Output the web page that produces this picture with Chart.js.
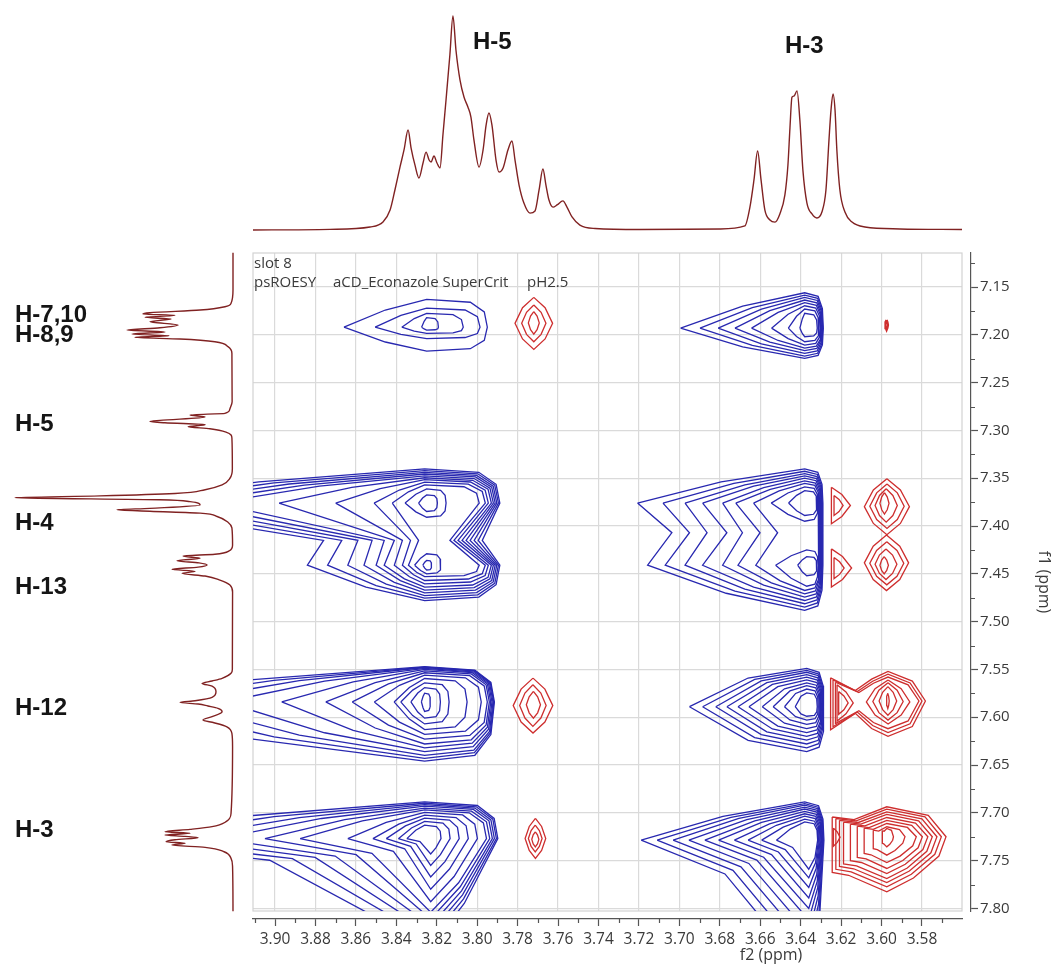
<!DOCTYPE html>
<html>
<head>
<meta charset="utf-8">
<script src="https://cdn.jsdelivr.net/npm/chart.js@4.4.1/dist/chart.umd.min.js"></script>
<style>
  html, body { margin: 0; padding: 0; background: #fff; }
  #wrap { position: relative; width: 1058px; height: 965px; overflow: hidden; background: #fff; }
  canvas { position: absolute; left: 0; top: 0; }
  .lab { position: absolute; font: bold 24px "Liberation Sans", Arial, sans-serif; line-height: 1;
         color: #151515; transform: translateY(-50%); white-space: nowrap; }
</style>
</head>
<body>
<div id="wrap">
  <canvas id="map" width="1058" height="965"></canvas>
  <canvas id="proj2" width="1058" height="245"></canvas>
  <canvas id="proj1" width="245" height="965"></canvas>
  <div class="lab" style="left:473px;top:41px">H-5</div>
  <div class="lab" style="left:785px;top:45px">H-3</div>
  <div class="lab" style="left:15px;top:314px">H-7,10</div>
  <div class="lab" style="left:15px;top:334px">H-8,9</div>
  <div class="lab" style="left:15px;top:423px">H-5</div>
  <div class="lab" style="left:15px;top:522px">H-4</div>
  <div class="lab" style="left:15px;top:586px">H-13</div>
  <div class="lab" style="left:15px;top:707px">H-12</div>
  <div class="lab" style="left:15px;top:829px">H-3</div>
</div>
<script>
// ---------- spectral windows (ppm) ----------
const f2Window = [3.5602, 3.9109];   // direct dimension, high ppm on the left
const f1Window = [7.1144, 7.8027];   // indirect dimension, high ppm at the bottom
const f2MajorStep = 0.02;
const f1MajorStep = 0.05;

// ---------- 1D projection along f2 (top trace) ----------
const topShift = [3.9109, 3.8728, 3.8530, 3.8466, 3.8431, 3.8407, 3.8382, 3.8362, 3.8342, 3.8327,
  3.8308, 3.8288, 3.8268, 3.8253, 3.8238, 3.8228, 3.8214, 3.8199, 3.8184, 3.8169,
  3.8154, 3.8135, 3.8120, 3.8105, 3.8085, 3.8065, 3.8046, 3.8031, 3.8016, 3.7991,
  3.7971, 3.7956, 3.7942, 3.7927, 3.7907, 3.7892, 3.7872, 3.7848, 3.7828, 3.7813,
  3.7793, 3.7769, 3.7739, 3.7714, 3.7694, 3.7675, 3.7660, 3.7645, 3.7625, 3.7605,
  3.7576, 3.7556, 3.7531, 3.7492, 3.7417, 3.7195, 3.6799, 3.6676, 3.6651, 3.6631,
  3.6613, 3.6596, 3.6577, 3.6552, 3.6527, 3.6503, 3.6478, 3.6463, 3.6453, 3.6443,
  3.6433, 3.6418, 3.6404, 3.6389, 3.6369, 3.6344, 3.6320, 3.6295, 3.6275, 3.6260,
  3.6250, 3.6240, 3.6230, 3.6221, 3.6206, 3.6181, 3.6146, 3.6082, 3.5909, 3.5602];
const topIntensity = [0, 0.3, 1.4, 3.7, 9.3, 18.7, 29.4, 37.4, 46.7, 38.3,
  30.4, 24.3, 31.3, 36.4, 32.7, 31.8, 34.6, 31.3, 29.0, 45,
  61, 82, 100, 84, 70, 62, 57.5, 52.8, 42.0, 29.4,
  37.4, 49.0, 54.7, 49.0, 32.7, 27.1, 29.0, 37.4, 41.6, 32.7,
  21.0, 12.6, 7.9, 8.9, 18.7, 28.5, 21.0, 14.0, 10.7, 11.7,
  13.6, 10.7, 6.1, 2.3, 0.7, 0.2, 0.5, 1.9, 10.7, 23.4,
  36.9, 23.4, 9.3, 4.7, 3.7, 7.5, 16.4, 30.4, 47.7, 62.1,
  62.6, 65.0, 51.4, 28.0, 12.6, 7.5, 5.6, 8.4, 18.7, 42.0,
  56.0, 63.6, 56.0, 37.4, 18.7, 8.4, 3.7, 1.4, 0.5, 0.2];

// ---------- 1D projection along f1 (side trace) ----------
const sideShift = [7.1141, 7.1531, 7.1670, 7.1706, 7.1741, 7.1769, 7.1782, 7.1796, 7.1817, 7.1835,
  7.1863, 7.1897, 7.1926, 7.1950, 7.1971, 7.1992, 7.2009, 7.2026, 7.2044, 7.2072,
  7.2124, 7.2194, 7.2700, 7.2780, 7.2821, 7.2839, 7.2860, 7.2895, 7.2906, 7.2920,
  7.2940, 7.2961, 7.2982, 7.3017, 7.3080, 7.3400, 7.3500, 7.3570, 7.3620, 7.3660,
  7.3685, 7.3703, 7.3725, 7.3745, 7.3780, 7.3815, 7.3830, 7.3845, 7.3865, 7.3900,
  7.3960, 7.4020, 7.4200, 7.4260, 7.4295, 7.4314, 7.4338, 7.4363, 7.4385, 7.4408,
  7.4430, 7.4453, 7.4474, 7.4495, 7.4523, 7.4565, 7.4617, 7.4690, 7.5500, 7.5541,
  7.5593, 7.5621, 7.5646, 7.5674, 7.5733, 7.5792, 7.5827, 7.5844, 7.5862, 7.5883,
  7.5907, 7.5942, 7.5994, 7.6030, 7.6058, 7.6100, 7.6169, 7.6305, 7.7005, 7.7093,
  7.7145, 7.7173, 7.7198, 7.7215, 7.7232, 7.7246, 7.7260, 7.7281, 7.7302, 7.7319,
  7.7337, 7.7361, 7.7407, 7.7476, 7.7563, 7.8030];
const sideIntensity = [0, 0, 0.9, 3.7, 15.1, 38.1, 41.3, 26.6, 40.4, 28.4,
  38.1, 25.2, 33.5, 48.6, 31.2, 46.3, 29.4, 45.0, 24.3, 8.3,
  2.3, 0.5, 0.4, 1.5, 3.7, 19.7, 12.8, 33.5, 38.1, 31.2,
  12.8, 20.6, 10.6, 3.2, 0.5, 0.3, 1.4, 5.0, 12.8, 26.6,
  61.0, 100, 33.5, 19.7, 15.1, 38.1, 53.2, 38.1, 15.1, 7.3,
  2.3, 0.5, 0.2, 1.8, 8.3, 22.9, 15.1, 25.7, 15.6, 11.9,
  16.0, 28.0, 17.4, 23.4, 12.8, 6.0, 1.4, 0.2, 0.3, 0.9,
  5.0, 9.6, 14.2, 9.6, 7.8, 9.6, 17.4, 24.3, 16.0, 11.5,
  6.9, 5.0, 9.6, 13.8, 8.7, 2.8, 0.5, 0.2, 0.9, 3.2,
  9.6, 19.7, 31.2, 19.7, 31.2, 22.0, 16.0, 26.6, 30.7, 22.0,
  28.0, 12.8, 4.1, 0.9, 0.2, 0];

// ---------- cross-peak contours, outermost level first ----------
// wedge levels:      [tip f2, blunt-edge f2, upper f1, lower f1]
// lens / D levels:   [left f2, right f2, upper f1, lower f1]
// two-lobe levels:   [upper tip f2, notch f2, lower tip f2, edge f2, edge notch f2, upper f1, lower f1]

// H-7,10 / H-8,9 row
const h710xH5Peak = { c: 7.192, xt: 3.825 };
const h710xH5Pos = [[3.8659, 3.7950, 7.1630, 7.2170], [3.8505, 3.7986, 7.1720, 7.2040],
  [3.8373, 3.8069, 7.1775, 7.1985], [3.8275, 3.8192, 7.1820, 7.1950]];
const h710x377Neg = [[3.7813, 3.7627, 7.1608, 7.2152], [3.7780, 3.7660, 7.1688, 7.2072],
  [3.7747, 3.7693, 7.1758, 7.1992]];
const h710xH3Peak = { c: 7.193, xt: 3.638 };
const h710xH3Pos = [[3.6994, 3.6288, 7.1560, 7.2246], [3.6898, 3.6291, 7.1584, 7.2222],
  [3.6808, 3.6294, 7.1608, 7.2194], [3.6725, 3.6297, 7.1636, 7.2166],
  [3.6643, 3.6300, 7.1664, 7.2138], [3.6544, 3.6304, 7.1696, 7.2107],
  [3.6461, 3.6310, 7.1730, 7.2072], [3.6404, 3.6318, 7.1775, 7.2020]];
const h710x360Neg = [[3.5982, 3.5968, 7.1845, 7.1950]];

// H-4 / H-13 rows
const h4h13xH5Peak = { c1: 7.376, c2: 7.441, cn: 7.415, xt: 3.826 };
const h4h13xH5Pos = [
  [3.990, 3.876, 3.884, 3.7888, 3.7975, 7.3402, 7.4780],
  [3.975, 3.867, 3.874, 3.7895, 3.7995, 7.3420, 7.4755],
  [3.960, 3.859, 3.864, 3.7903, 3.8015, 7.3438, 7.4728],
  [3.945, 3.852, 3.856, 3.7911, 3.8035, 7.3456, 7.4700],
  [3.930, 3.846, 3.850, 3.7920, 3.8055, 7.3475, 7.4670],
  [3.898, 3.841, 3.846, 3.7930, 3.8075, 7.3495, 7.4640],
  [3.870, 3.837, 3.841, 3.7945, 3.8095, 7.3515, 7.4605],
  [3.851, 3.833, 3.837, 3.7960, 3.8115, 7.3540, 7.4570],
  [3.842, 3.829, 3.834, 3.7990, 3.8135, 7.3570, 7.4530]];
const h4xH5Peak = { c: 7.376, xt: 3.825 };
const h4xH5Core = [[3.8357, 3.8154, 7.3611, 7.3908], [3.8290, 3.8197, 7.3674, 7.3848]];
const h13xH5Peak = { c: 7.441, xt: 3.825 };
const h13xH5Core = [[3.8310, 3.8180, 7.4290, 7.4500], [3.8269, 3.8226, 7.4360, 7.4460]];

const h4h13xH3Peak = { c1: 7.376, c2: 7.441, cn: 7.407, xt: 3.638 };
const h4h13xH3Pos = [
  [3.7207, 3.7037, 3.7157, 3.6290, 3.6290, 7.3402, 7.4883],
  [3.7081, 3.6950, 3.7070, 3.6293, 3.6293, 7.3427, 7.4848],
  [3.6972, 3.6863, 3.6972, 3.6296, 3.6296, 7.3451, 7.4813],
  [3.6885, 3.6765, 3.6885, 3.6299, 3.6299, 7.3475, 7.4779],
  [3.6786, 3.6688, 3.6786, 3.6302, 3.6302, 7.3500, 7.4744],
  [3.6721, 3.6601, 3.6710, 3.6306, 3.6306, 7.3528, 7.4709],
  [3.6633, 3.6514, 3.6622, 3.6310, 3.6310, 7.3555, 7.4674]];
const h4xH3Peak = { c: 7.376, xt: 3.638 };
const h4xH3Core = [[3.6546, 3.6315, 7.3590, 7.3950], [3.6460, 3.6320, 7.3630, 7.3890]];
const h13xH3Peak = { c: 7.441, xt: 3.637 };
const h13xH3Core = [[3.6524, 3.6314, 7.4250, 7.4630], [3.6415, 3.6320, 7.4320, 7.4520]];
const h4x362Neg = [[3.6248, 3.6154, 7.3594, 7.3977], [3.6235, 3.6190, 7.3680, 7.3890]];
const h13x362Neg = [[3.6248, 3.6148, 7.4239, 7.4639], [3.6235, 3.6185, 7.4330, 7.4550]];
const h4x360Neg = [[3.6085, 3.5862, 7.3505, 7.4090], [3.6058, 3.5888, 7.3560, 7.4025],
  [3.6032, 3.5922, 7.3610, 7.3960], [3.6008, 3.5963, 7.3650, 7.3875]];
const h13x360Neg = [[3.6085, 3.5866, 7.4095, 7.4675], [3.6058, 3.5890, 7.4165, 7.4615],
  [3.6032, 3.5924, 7.4240, 7.4560], [3.6008, 3.5966, 7.4320, 7.4500]];

// H-12 row
const h12xH5Peak = { c: 7.584, xt: 3.826 };
const h12xH5Pos = [[4.000, 3.7915, 7.5470, 7.6460], [3.975, 3.7918, 7.5475, 7.6430],
  [3.950, 3.7922, 7.5480, 7.6400], [3.925, 3.7927, 7.5490, 7.6360],
  [3.8967, 3.7933, 7.5500, 7.6320], [3.8749, 3.7940, 7.5515, 7.6280],
  [3.8618, 3.7950, 7.5535, 7.6230], [3.8509, 3.7980, 7.5560, 7.6180],
  [3.8411, 3.8050, 7.5595, 7.6130], [3.8378, 3.8139, 7.5640, 7.6070],
  [3.8328, 3.8182, 7.5690, 7.6010], [3.8276, 3.8232, 7.5748, 7.5939]];
const h12x377Neg = [[3.7822, 3.7626, 7.5591, 7.6166], [3.7790, 3.7659, 7.5660, 7.6096],
  [3.7757, 3.7687, 7.5730, 7.6010]];
const h12xH3Peak = { c: 7.589, xt: 3.637, bulge: 0.75 };
const h12xH3Pos = [[3.6950, 3.6285, 7.5490, 7.6360], [3.6885, 3.6288, 7.5510, 7.6320],
  [3.6820, 3.6291, 7.5530, 7.6280], [3.6765, 3.6294, 7.5555, 7.6240],
  [3.6710, 3.6297, 7.5580, 7.6200], [3.6656, 3.6300, 7.5610, 7.6160],
  [3.6590, 3.6304, 7.5640, 7.6120], [3.6536, 3.6308, 7.5670, 7.6075],
  [3.6480, 3.6313, 7.5705, 7.6030], [3.6427, 3.6318, 7.5745, 7.5990]];
// bowtie levels: [left f2, waist f2, right f2, upper f1, lower f1]
const h12x360Peak = { c: 7.583, xc: 3.5968 };
const h12x360Outer = [[3.6252, 3.6130, 3.5783, 7.5520, 7.6200],
  [3.6240, 3.6120, 3.5800, 7.5550, 7.6160], [3.6228, 3.6112, 3.5815, 7.5580, 7.6120]];
const h12x360Core = [[3.6075, 3.5860, 7.5610, 7.6070], [3.6043, 3.5893, 7.5640, 7.6030],
  [3.6012, 3.5925, 7.5680, 7.5980], [3.5976, 3.5962, 7.5750, 7.5910]];
const h12x362Neg = [[3.6220, 3.6140, 7.5660, 7.6040], [3.6212, 3.6165, 7.5730, 7.5970]];

// H-3 row (tails run below the f1 window)
const h3xH5Peak = { c: 7.727, xt: 3.826, xv: 3.823, rx: 0.5, lx: 0.55, ly: 0.2 };
const h3xH5Pos = [[4.000, 3.7898, 7.6885, 7.840], [3.975, 3.7905, 7.6900, 7.832],
  [3.950, 3.7915, 7.6915, 7.825], [3.928, 3.7925, 7.6930, 7.818],
  [3.905, 3.7938, 7.6950, 7.811], [3.8876, 3.7954, 7.6970, 7.804],
  [3.8640, 3.7999, 7.6995, 7.793], [3.8516, 3.8044, 7.7025, 7.780],
  [3.8450, 3.8089, 7.7055, 7.767], [3.8390, 3.8134, 7.7090, 7.755],
  [3.8348, 3.8179, 7.7129, 7.743]];
const h3x377Neg = [[3.7763, 3.7661, 7.7059, 7.7478], [3.7747, 3.7679, 7.7129, 7.7408],
  [3.7730, 3.7695, 7.7199, 7.7356]];
const h3xH3Peak = { c: 7.7286, xt: 3.638, xv: 3.636, rx: 0.3, lx: 0.5, ly: 0.25 };
const h3xH3Pos = [[3.7189, 3.6285, 7.6885, 7.870], [3.7110, 3.6288, 7.6903, 7.855],
  [3.7031, 3.6291, 7.6920, 7.840], [3.6953, 3.6294, 7.6940, 7.826],
  [3.6874, 3.6297, 7.6960, 7.812], [3.6806, 3.6300, 7.6985, 7.800],
  [3.6728, 3.6304, 7.7010, 7.789], [3.6660, 3.6308, 7.7035, 7.778],
  [3.6593, 3.6312, 7.7066, 7.768], [3.6520, 3.6316, 7.7095, 7.759]];
const h3x360Peak = { c: 7.725, xc: 3.5974 };
const h3x360Neg = [[3.6244, 3.5681, 7.6937, 7.7826], [3.6226, 3.5704, 7.6962, 7.7774],
  [3.6208, 3.5726, 7.6990, 7.7729], [3.6188, 3.5749, 7.7017, 7.7687],
  [3.6154, 3.5771, 7.7049, 7.7635], [3.6120, 3.5798, 7.7080, 7.7582],
  [3.6086, 3.5828, 7.7112, 7.7520], [3.6041, 3.5884, 7.7146, 7.7443],
  [3.5996, 3.5941, 7.7164, 7.7356]];
const h3x362Neg = [[3.6238, 3.6205, 7.7160, 7.7350]];

// ---------- contour outline builders (ppm in, ppm out) ----------
function wedge([L, R, T, B], f) {
  const { c, xt } = f, k = f.bulge ?? 0.62;
  return [
    [L, c], [L + 0.5 * (xt - L), c - k * (c - T)], [xt, T],
    [xt + 0.72 * (R - xt), T + 0.1 * (c - T)], [xt + 0.95 * (R - xt), T + 0.45 * (c - T)],
    [R, c],
    [xt + 0.95 * (R - xt), B - 0.45 * (B - c)], [xt + 0.72 * (R - xt), B - 0.1 * (B - c)],
    [xt, B], [L + 0.5 * (xt - L), c + k * (B - c)], [L, c]
  ];
}
function wedgeDown([L, R, T, B], f) {
  const { c, xt, xv, rx, lx, ly } = f;
  return [
    [L, c], [L + 0.5 * (xt - L), c - 0.62 * (c - T)], [xt, T],
    [xt + 0.72 * (R - xt), T + 0.1 * (c - T)], [xt + 0.95 * (R - xt), T + 0.45 * (c - T)],
    [R, c], [R + rx * (xv - R), c + 0.6 * (B - c)], [xv, B],
    [L + lx * (xv - L), c + ly * (B - c)], [L, c]
  ];
}
function twoLobe([L1, N, L2, R, NR, T, B], f) {
  const { c1, c2, cn, xt } = f;
  return [
    [L1, c1], [L1 + 0.5 * (xt - L1), c1 - 0.62 * (c1 - T)], [xt, T],
    [xt + 0.72 * (R - xt), T + 0.1 * (c1 - T)], [xt + 0.95 * (R - xt), T + 0.45 * (c1 - T)],
    [R, c1], [NR, cn], [R, c2],
    [xt + 0.95 * (R - xt), B - 0.45 * (B - c2)], [xt + 0.72 * (R - xt), B - 0.1 * (B - c2)],
    [xt, B], [L2 + 0.5 * (xt - L2), c2 + 0.62 * (B - c2)], [L2, c2],
    [N, cn], [L1, c1]
  ];
}
function lens([L, R, T, B]) {
  const m = (L + R) / 2, c = (T + B) / 2, w = R - L, h = B - T;
  return [[m, T], [m + 0.3 * w, T + 0.2 * h], [R, c], [m + 0.3 * w, B - 0.2 * h], [m, B],
          [m - 0.3 * w, B - 0.2 * h], [L, c], [m - 0.3 * w, T + 0.2 * h], [m, T]];
}
function dshape([L, R, T, B]) {
  const w = R - L, h = B - T;
  return [[L, T], [L + 0.55 * w, T + 0.2 * h], [R, T + 0.5 * h], [L + 0.55 * w, B - 0.2 * h], [L, B], [L, T]];
}
function bowtie([L, W, R, T, B], { c, xc }) {
  const h = B - T;
  return [
    [L, T + 0.1 * h], [W, c - 0.35 * (c - T)], [W + 0.5 * (xc - W), T + 0.12 * h], [xc, T],
    [xc + 0.65 * (R - xc), T + 0.15 * h], [R, c], [xc + 0.65 * (R - xc), B - 0.15 * h], [xc, B],
    [W + 0.5 * (xc - W), B - 0.12 * h], [W, c + 0.35 * (B - c)], [L, B - 0.1 * h], [L, T + 0.1 * h]
  ];
}
function blob([L, R, T, B], { c, xc }) {
  const h = B - T;
  return [
    [L, T + 0.12 * h], [L + 0.4 * (xc - L), T + 0.15 * h], [xc, T],
    [xc + 0.7 * (R - xc), T + 0.1 * h], [R, c],
    [xc + 0.88 * (R - xc), c + 0.35 * (B - c)], [xc + 0.45 * (R - xc), c + 0.75 * (B - c)],
    [xc, B], [L + 0.3 * (xc - L), B - 0.3 * (B - c)], [L, B - 0.35 * (B - c)], [L, T + 0.12 * h]
  ];
}

// ---------- datasets ----------
const POS = 'rgb(40,40,176)';
const NEG = 'rgb(206,46,46)';
const TRACE = 'rgb(128,34,34)';
const contourSets = [];
function addLevels(levels, build, family, color, width = 1.3) {
  levels.forEach(level => {
    contourSets.push({
      data: build(level, family).map(([x, y]) => ({ x, y })),
      showLine: true, borderColor: color, borderWidth: width,
      pointRadius: 0, pointHoverRadius: 0, tension: 0, fill: false,
      xAxisID: 'x', yAxisID: 'y'
    });
  });
}
addLevels(h710xH5Pos, wedge, h710xH5Peak, POS);
addLevels(h710x377Neg, lens, null, NEG);
addLevels(h710xH3Pos, wedge, h710xH3Peak, POS);
addLevels(h710x360Neg, lens, null, NEG, 2.2);

addLevels(h4h13xH5Pos, twoLobe, h4h13xH5Peak, POS);
addLevels(h4xH5Core, wedge, h4xH5Peak, POS);
addLevels(h13xH5Core, wedge, h13xH5Peak, POS);
addLevels(h4h13xH3Pos, twoLobe, h4h13xH3Peak, POS);
addLevels(h4xH3Core, wedge, h4xH3Peak, POS);
addLevels(h13xH3Core, wedge, h13xH3Peak, POS);
addLevels(h4x362Neg, dshape, null, NEG);
addLevels(h13x362Neg, dshape, null, NEG);
addLevels(h4x360Neg, lens, null, NEG);
addLevels(h13x360Neg, lens, null, NEG);

addLevels(h12xH5Pos, wedge, h12xH5Peak, POS);
addLevels(h12x377Neg, lens, null, NEG);
addLevels(h12xH3Pos, wedge, h12xH3Peak, POS);
addLevels(h12x360Outer, bowtie, h12x360Peak, NEG);
addLevels(h12x360Core, lens, null, NEG);
addLevels(h12x362Neg, dshape, null, NEG);

addLevels(h3xH5Pos, wedgeDown, h3xH5Peak, POS);
addLevels(h3x377Neg, lens, null, NEG);
addLevels(h3xH3Pos, wedgeDown, h3xH3Peak, POS);
addLevels(h3x360Neg, blob, h3x360Peak, NEG);
addLevels(h3x362Neg, dshape, null, NEG);

Chart.defaults.font.family = '"Open Sans", "DejaVu Sans", sans-serif';

// frame, header text, minor ticks and f2 title
const mapDecor = {
  id: 'mapDecor',
  beforeDatasetsDraw(chart) {
    const { ctx, chartArea: a } = chart;
    ctx.save();
    ctx.strokeStyle = '#d2d2d2';
    ctx.lineWidth = 1.2;
    ctx.strokeRect(a.left, a.top, a.right - a.left, a.bottom - a.top);
    ctx.fillStyle = '#3a3a3a';
    ctx.font = '15px "Open Sans"';
    ctx.textBaseline = 'alphabetic';
    ctx.fillText('slot 8', a.left + 1, a.top + 15);
    ctx.fillText('psROESY', a.left + 1, a.top + 34);
    ctx.fillText('aCD_Econazole SuperCrit', 333, a.top + 34);
    ctx.fillText('pH2.5', 527, a.top + 34);
    ctx.restore();
  },
  afterDraw(chart) {
    const { ctx, scales: { x2, y2 } } = chart;
    ctx.save();
    ctx.strokeStyle = '#555';
    ctx.lineWidth = 1.2;
    ctx.beginPath();
    for (let k = Math.ceil(x2.min * 100); k <= Math.floor(x2.max * 100); k++) {
      if (k % 2 === 0) continue;
      const px = Math.round(x2.getPixelForValue(k / 100)) + 0.5;
      ctx.moveTo(px, x2.top); ctx.lineTo(px, x2.top + 4);
    }
    for (let k = Math.ceil(y2.min * 40); k <= Math.floor(y2.max * 40); k++) {
      if (k % 2 === 0) continue;
      const py = Math.round(y2.getPixelForValue(k / 40)) + 0.5;
      ctx.moveTo(y2.left, py); ctx.lineTo(y2.left + 4, py);
    }
    ctx.stroke();
    ctx.fillStyle = '#3a3a3a';
    ctx.font = '16px "Open Sans"';
    ctx.textAlign = 'center';
    ctx.textBaseline = 'alphabetic';
    ctx.fillText('f2 (ppm)', 771, 960);
    ctx.restore();
  }
};

const gridStyle = { color: '#dadada', lineWidth: 1.2, drawTicks: false };
const tickFont = { family: '"Open Sans"', size: 15.5 };

new Chart(document.getElementById('map'), {
  type: 'scatter',
  data: { datasets: contourSets },
  options: {
    responsive: false, animation: false, devicePixelRatio: 1, events: [],
    layout: { padding: { left: 253, top: 253, right: 3, bottom: 0 } },
    plugins: { legend: { display: false }, tooltip: { enabled: false } },
    scales: {
      x: {
        type: 'linear', position: 'bottom', weight: 0,
        min: f2Window[0], max: f2Window[1], reverse: true,
        ticks: { display: false, stepSize: f2MajorStep, includeBounds: false },
        grid: gridStyle, border: { display: false },
        afterFit: s => { s.height = 8; }
      },
      x2: {
        type: 'linear', position: 'bottom', weight: 1,
        min: f2Window[0], max: f2Window[1], reverse: true,
        ticks: { stepSize: f2MajorStep, includeBounds: false, autoSkip: false, maxRotation: 0, minRotation: 0,
                 padding: 4, color: '#3a3a3a', font: tickFont, callback: v => v.toFixed(2) },
        grid: { drawOnChartArea: false, drawTicks: true, tickLength: 7, tickColor: '#555', tickWidth: 1.2 },
        border: { display: true, color: '#555', width: 1.2 },
        afterFit: s => { s.height = 46; }
      },
      y: {
        type: 'linear', position: 'right', weight: 0,
        min: f1Window[0], max: f1Window[1], reverse: true,
        ticks: { display: false, stepSize: f1MajorStep, includeBounds: false },
        grid: gridStyle, border: { display: false },
        afterFit: s => { s.width = 9; }
      },
      y2: {
        type: 'linear', position: 'right', weight: 1,
        min: f1Window[0], max: f1Window[1], reverse: true,
        ticks: { stepSize: f1MajorStep, includeBounds: false, autoSkip: false,
                 padding: 2, color: '#3a3a3a', font: { family: '"Open Sans"', size: 15 }, callback: v => v.toFixed(2) },
        grid: { drawOnChartArea: false, drawTicks: true, tickLength: 7, tickColor: '#555', tickWidth: 1.2 },
        border: { display: true, color: '#555', width: 1.2 },
        title: { display: true, text: 'f1 (ppm)', color: '#3a3a3a', font: { family: '"Open Sans"', size: 16 },
                 padding: { top: 2, bottom: 0 } },
        afterFit: s => { s.width = 84; }
      }
    }
  },
  plugins: [mapDecor]
});

// top trace: projection on f2
new Chart(document.getElementById('proj2'), {
  type: 'scatter',
  data: { datasets: [{
    data: topShift.map((s, i) => ({ x: s, y: topIntensity[i] })),
    showLine: true, borderColor: TRACE, borderWidth: 1.4, pointRadius: 0,
    cubicInterpolationMode: 'monotone', clip: false
  }] },
  options: {
    responsive: false, animation: false, devicePixelRatio: 1, events: [],
    layout: { padding: { left: 253, right: 96, top: 16, bottom: 15 } },
    plugins: { legend: { display: false }, tooltip: { enabled: false } },
    scales: {
      x: { type: 'linear', display: false, min: f2Window[0], max: f2Window[1], reverse: true },
      y: { type: 'linear', display: false, min: 0, max: 100 }
    }
  }
});

// side trace: projection on f1
new Chart(document.getElementById('proj1'), {
  type: 'scatter',
  data: { datasets: [{
    data: sideShift.map((s, i) => ({ x: sideIntensity[i], y: s })),
    showLine: true, borderColor: TRACE, borderWidth: 1.4, pointRadius: 0,
    cubicInterpolationMode: 'monotone', clip: false
  }] },
  options: {
    indexAxis: 'y',
    responsive: false, animation: false, devicePixelRatio: 1, events: [],
    layout: { padding: { left: 15, right: 12, top: 253, bottom: 54 } },
    plugins: { legend: { display: false }, tooltip: { enabled: false } },
    scales: {
      x: { type: 'linear', display: false, min: 0, max: 100, reverse: true },
      y: { type: 'linear', display: false, min: f1Window[0], max: f1Window[1], reverse: true }
    }
  }
});
</script>
</body>
</html>
